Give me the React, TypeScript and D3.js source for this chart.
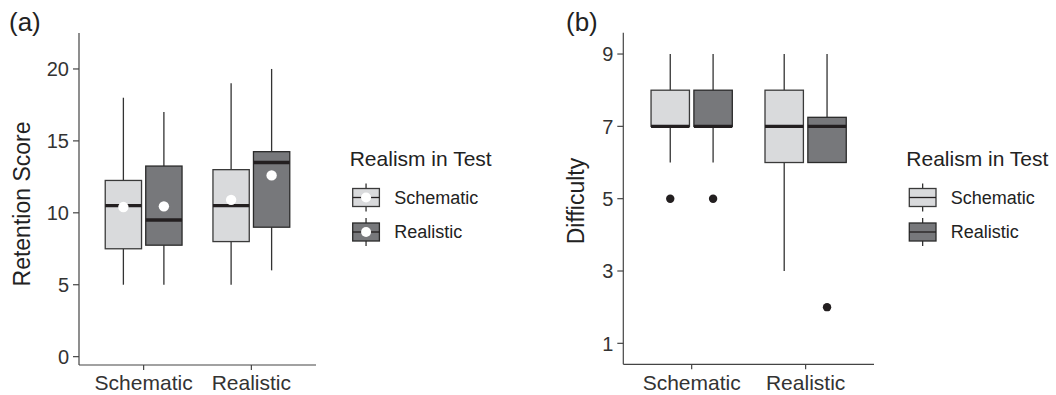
import React from "react";
import * as d3 from "d3";

const categories = ["Schematic", "Realistic"];
const groups = ["Schematic", "Realistic"];
const legendTitle = "Realism in Test";

// order: [cat Schematic: grp Schematic, grp Realistic], [cat Realistic: grp Schematic, grp Realistic]
const retentionLow = [5, 5, 5, 6];
const retentionQ1 = [7.5, 7.75, 8, 9];
const retentionMedian = [10.5, 9.5, 10.5, 13.5];
const retentionQ3 = [12.25, 13.25, 13, 14.25];
const retentionHigh = [18, 17, 19, 20];
const retentionMean = [10.4, 10.45, 10.9, 12.6];
const retentionTicks = [0, 5, 10, 15, 20];

const difficultyLow = [6, 6, 3, 6];
const difficultyQ1 = [7, 7, 6, 6];
const difficultyMedian = [7, 7, 7, 7];
const difficultyQ3 = [8, 8, 8, 7.25];
const difficultyHigh = [9, 9, 9, 9];
const difficultyOutliers = [[5], [5], [], [2]];
const difficultyTicks = [1, 3, 5, 7, 9];

const fills = ["#d9dadc", "#77787b"];
const strokes = ["#3a3a3a", "#2a2a2a"];
const FONT = "'Liberation Sans', Arial, Helvetica, sans-serif";

type PanelProps = {
  label: string;
  labelX: number;
  yTitle: string;
  yTitleX: number;
  yTitleY: number;
  xLeft: number;
  xRight: number;
  yTop: number;
  yBottom: number;
  yDomain: [number, number];
  ticks: number[];
  low: number[];
  q1: number[];
  med: number[];
  q3: number[];
  high: number[];
  mean?: number[];
  outliers?: number[][];
  legendX: number;
};

function Panel(p: PanelProps) {
  const x = d3.scalePoint<string>().domain(categories).range([p.xLeft, p.xRight]).padding(0.6);
  const step = x.step();
  const y = d3.scaleLinear().domain(p.yDomain).range([p.yBottom, p.yTop]);
  const offset = 0.188 * step;
  const bw = 0.337 * step;
  const boxes: any[] = [];
  categories.forEach((c, ci) => {
    groups.forEach((g, gi) => {
      const i = ci * 2 + gi;
      const cx = (x(c) as number) + (gi === 0 ? -offset : offset);
      boxes.push({ i, gi, cx });
    });
  });
  return (
    <g>
      <text x={p.labelX} y={31} fontSize={26} fill="#222" fontFamily={FONT}>{p.label}</text>
      {boxes.map((b) => (
        <g key={b.i}>
          <line x1={b.cx} x2={b.cx} y1={y(p.high[b.i])} y2={y(p.q3[b.i])} stroke="#333" strokeWidth={1.3} />
          <line x1={b.cx} x2={b.cx} y1={y(p.low[b.i])} y2={y(p.q1[b.i])} stroke="#333" strokeWidth={1.3} />
          <rect x={b.cx - bw / 2} y={y(p.q3[b.i])} width={bw} height={y(p.q1[b.i]) - y(p.q3[b.i])}
            fill={fills[b.gi]} stroke={strokes[b.gi]} strokeWidth={1.3} />
          <line x1={b.cx - bw / 2} x2={b.cx + bw / 2} y1={y(p.med[b.i])} y2={y(p.med[b.i])} stroke="#231f20" strokeWidth={3.4} />
          {p.mean && <circle cx={b.cx} cy={y(p.mean[b.i])} r={5.2} fill="#ffffff" />}
          {p.outliers && p.outliers[b.i].map((o, k) => (
            <circle key={k} cx={b.cx} cy={y(o)} r={4.2} fill="#231f20" />
          ))}
        </g>
      ))}
      <line x1={p.xLeft} x2={p.xLeft} y1={p.yTop} y2={p.yBottom} stroke="#444" strokeWidth={1.2} />
      <line x1={p.xLeft} x2={p.xRight} y1={p.yBottom} y2={p.yBottom} stroke="#444" strokeWidth={1.2} />
      {p.ticks.map((t) => (
        <g key={t}>
          <line x1={p.xLeft - 6} x2={p.xLeft} y1={y(t)} y2={y(t)} stroke="#444" strokeWidth={1.2} />
          <text x={p.xLeft - 10} y={y(t)} dy="0.36em" textAnchor="end" fontSize={20} fill="#333" fontFamily={FONT}>{t}</text>
        </g>
      ))}
      {categories.map((c) => (
        <g key={c}>
          <line x1={x(c)} x2={x(c)} y1={p.yBottom} y2={p.yBottom + 5} stroke="#444" strokeWidth={1.2} />
          <text x={x(c)} y={390} textAnchor="middle" fontSize={21} fill="#333" fontFamily={FONT}>{c}</text>
        </g>
      ))}
      <text transform={`translate(${p.yTitleX},${p.yTitleY}) rotate(-90)`} textAnchor="middle"
        fontSize={23} fill="#222" fontFamily={FONT}>{p.yTitle}</text>
      <text x={p.legendX - 3} y={166} fontSize={21} fill="#222" fontFamily={FONT}>{legendTitle}</text>
      {groups.map((g, gi) => {
        const cy = 197.5 + gi * 34.5;
        const kx = p.legendX;
        const kw = 26.7;
        return (
          <g key={g}>
            <line x1={kx + kw / 2} x2={kx + kw / 2} y1={cy - 14} y2={cy + 14} stroke="#333" strokeWidth={1.3} />
            <rect x={kx} y={cy - 9} width={kw} height={18} fill={fills[gi]} stroke={strokes[gi]} strokeWidth={1.3} />
            <line x1={kx} x2={kx + kw} y1={cy} y2={cy} stroke="#231f20" strokeWidth={1.3} />
            {p.mean && <circle cx={kx + kw / 2} cy={cy} r={5} fill="#ffffff" />}
            <text x={kx + 41.5} y={cy} dy="0.36em" fontSize={18} fill="#222" fontFamily={FONT}>{g}</text>
          </g>
        );
      })}
    </g>
  );
}

export default function App() {
  return (
    <svg width={1056} height={395} style={{ position: "absolute", left: 0, top: 0, background: "#fff" }}>
      <rect width={1056} height={395} fill="#fff" />
      <Panel label="(a)" labelX={9} yTitle="Retention Score" yTitleX={30} yTitleY={204}
        xLeft={79} xRight={316} yTop={33} yBottom={365} yDomain={[-0.58, 22.5]} ticks={retentionTicks}
        low={retentionLow} q1={retentionQ1} med={retentionMedian} q3={retentionQ3} high={retentionHigh}
        mean={retentionMean} legendX={352.7} />
      <Panel label="(b)" labelX={566} yTitle="Difficulty" yTitleX={584} yTitleY={201}
        xLeft={623.3} xRight={874} yTop={32.7} yBottom={364.3} yDomain={[0.42, 9.59]} ticks={difficultyTicks}
        low={difficultyLow} q1={difficultyQ1} med={difficultyMedian} q3={difficultyQ3} high={difficultyHigh}
        outliers={difficultyOutliers} legendX={909.3} />
    </svg>
  );
}
